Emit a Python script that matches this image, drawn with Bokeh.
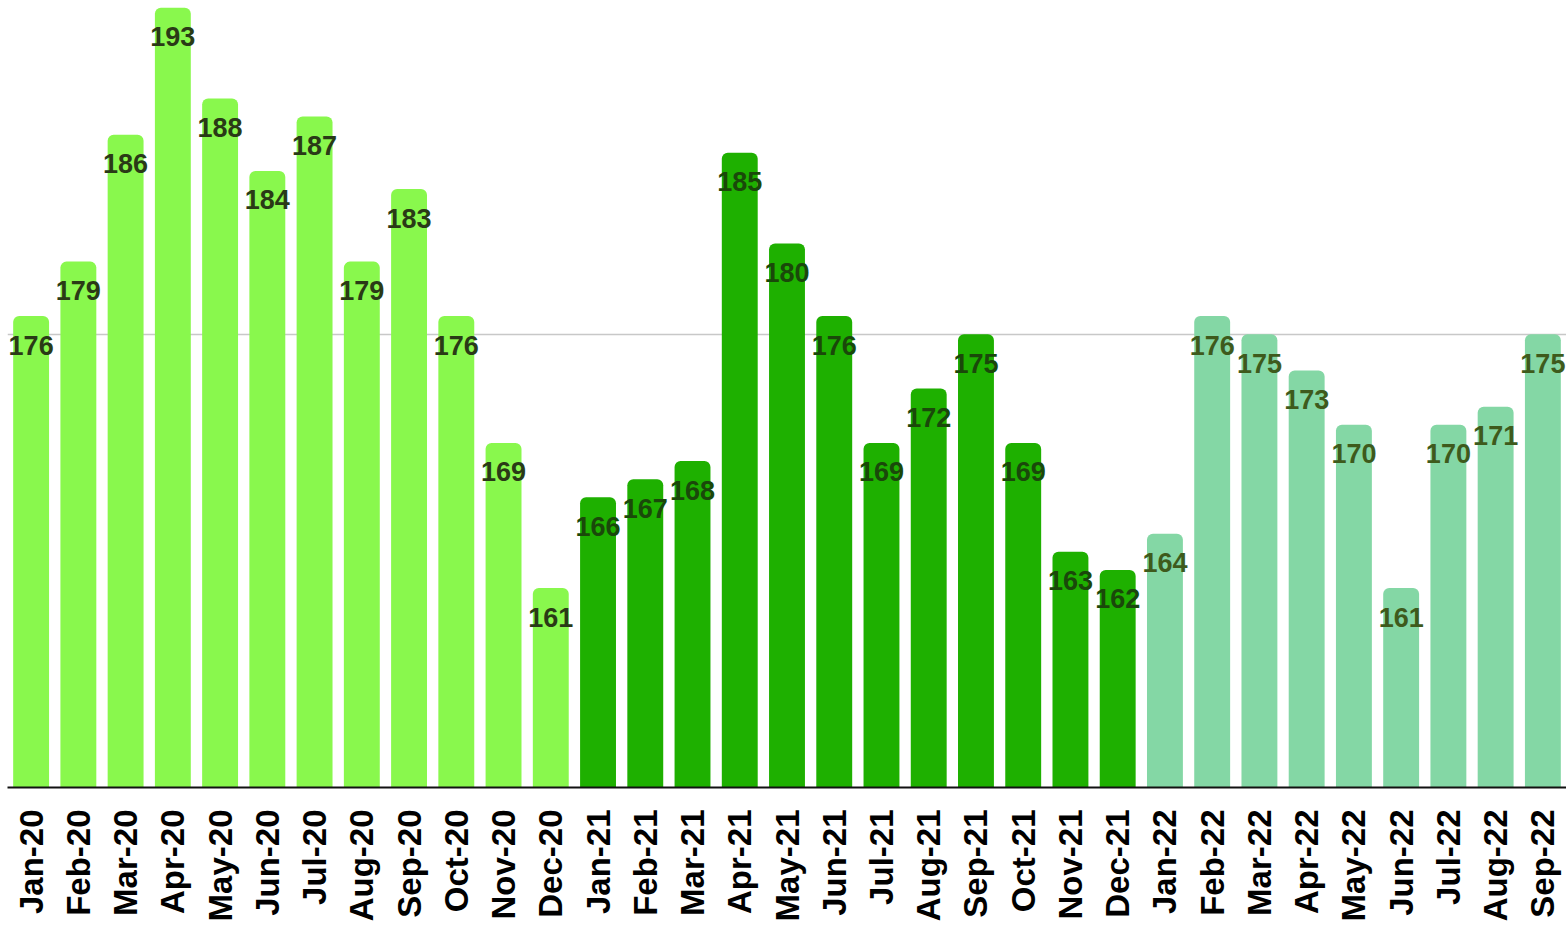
import math
from bokeh.plotting import figure
from bokeh.models import ColumnDataSource, FactorRange, Range1d, FixedTicker
from bokeh.core.properties import value
from bokeh.embed import file_html
from bokeh.resources import INLINE

months = ["Jan", "Feb", "Mar", "Apr", "May", "Jun", "Jul", "Aug", "Sep", "Oct", "Nov", "Dec"]
values_2020 = [176, 179, 186, 193, 188, 184, 187, 179, 183, 176, 169, 161]
values_2021 = [166, 167, 168, 185, 180, 176, 169, 172, 175, 169, 163, 162]
values_2022 = [164, 176, 175, 173, 170, 161, 170, 171, 175]

year_bar_colors = {"20": "#89F84D", "21": "#1EB000", "22": "#84D7A5"}
year_text_colors = {"20": "#2A3A16", "21": "#1A480A", "22": "#3E5A1C"}

labels, vals, yrs = [], [], []
for yr, series in (("20", values_2020), ("21", values_2021), ("22", values_2022)):
    for m, v in zip(months, series):
        labels.append(f"{m}-{yr}")
        vals.append(v)
        yrs.append(yr)

src = ColumnDataSource(dict(
    x=labels, top=vals, txt=[str(v) for v in vals],
    color=[year_bar_colors[y] for y in yrs],
    tcolor=[year_text_colors[y] for y in yrs],
))

FONT = "Liberation Sans"

p = figure(width=1566, height=925, x_range=FactorRange(*labels),
           y_range=Range1d(150, 193.4), output_backend="svg",
           toolbar_location=None, min_border_left=7, min_border_right=0,
           min_border_top=0, min_border_bottom=138)
p.outline_line_color = None
p.background_fill_color = "white"
p.border_fill_color = "white"
p.x_range.range_padding = 0
p.x_range.group_padding = 0

p.vbar(x="x", top="top", bottom=150, width=0.76, source=src,
       fill_color="color", line_color=None, border_radius=(6, 6, 0, 0))

p.text(x="x", y="top", text="txt", source=src, text_color="tcolor",
       text_font=value(FONT), text_font_style="bold", text_font_size="27px",
       text_align="center", text_baseline="alphabetic", y_offset=29)

p.yaxis.visible = False
p.xgrid.visible = False
p.ygrid.ticker = FixedTicker(ticks=[175])
p.ygrid.grid_line_color = "#C8C8C8"
p.ygrid.grid_line_width = 1.5

ax = p.xaxis[0]
ax.axis_line_color = "#111111"
ax.axis_line_width = 2
ax.major_tick_line_color = None
ax.minor_tick_line_color = None
ax.major_tick_out = 0
ax.major_tick_in = 0
ax.major_label_orientation = math.pi / 2
ax.major_label_standoff = 22
ax.major_label_text_font = FONT
ax.major_label_text_font_style = "bold"
ax.major_label_text_font_size = "33px"
ax.major_label_text_color = "#000000"

open("out.html", "w").write(file_html(p, INLINE))
